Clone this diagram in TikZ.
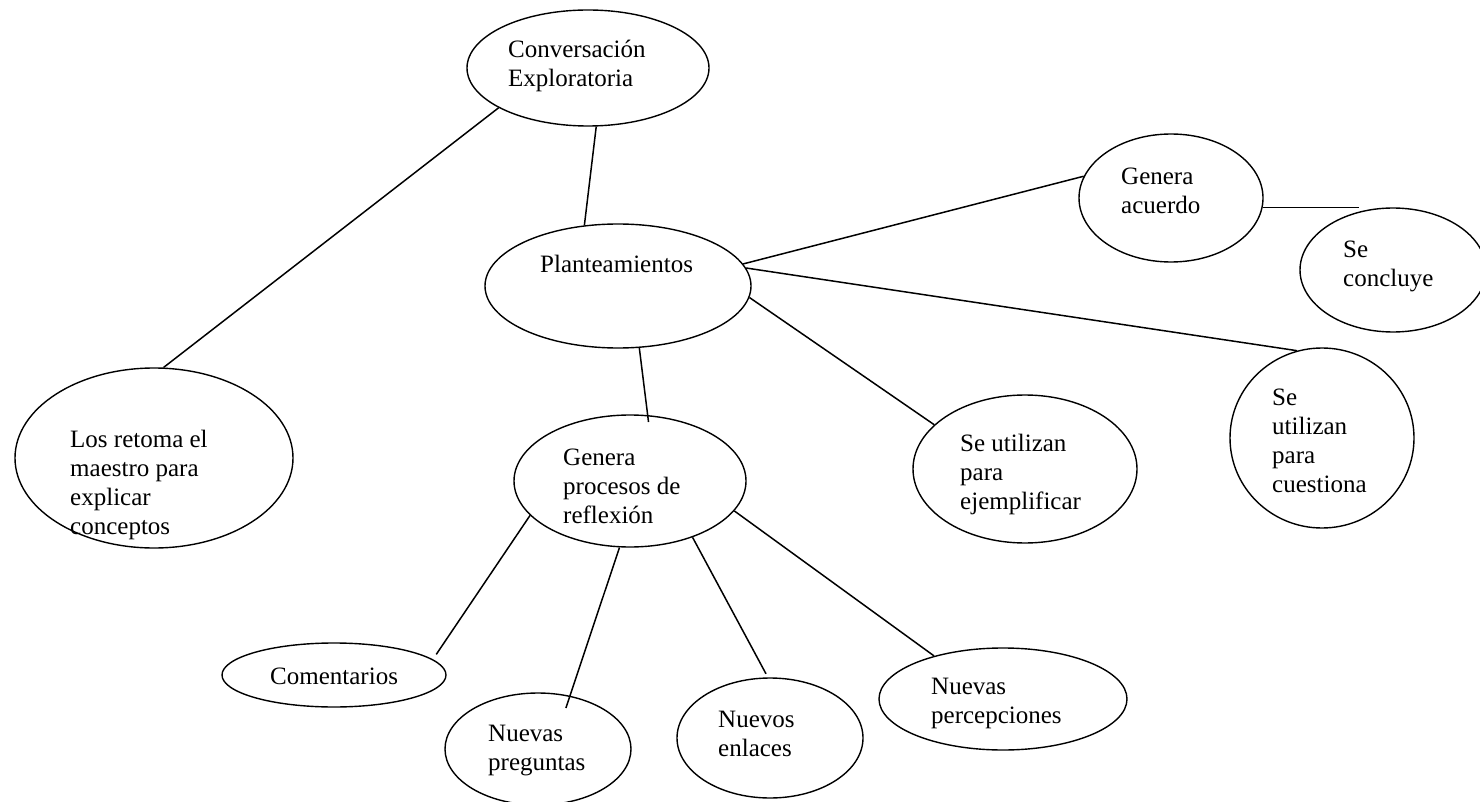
\documentclass[tikz,border=0pt]{standalone}
\usepackage{fontspec}
\setmainfont{Liberation Serif}
\usetikzlibrary{shapes.geometric}
\begin{document}
\begin{tikzpicture}[x=1pt,y=-1pt,
  bubble/.style={draw, ellipse, inner sep=0pt, line width=1.4pt},
  intext/.style={anchor=north west, inner sep=0pt, align=left,
                 font=\fontsize{25}{29}\selectfont},
  link/.style={line width=1.5pt}]
\useasboundingbox (0,0) rectangle (1480,802);

% ellipses
\node[bubble, minimum width=242pt, minimum height=116pt] (conv)    at (588,68)   {};
\node[bubble, minimum width=266pt, minimum height=124pt] (plant)   at (618,286)  {};
\node[bubble, minimum width=278pt, minimum height=180pt] (retoma)  at (154,458)  {};
\node[bubble, minimum width=232pt, minimum height=132pt] (genp)    at (630,481)  {};
\node[bubble, minimum width=224pt, minimum height=148pt] (ejem)    at (1025,469) {};
\node[bubble, minimum width=184pt, minimum height=180pt] (cuest)   at (1322,438) {};
\node[bubble, minimum width=184pt, minimum height=128pt] (acuerdo) at (1171,198) {};
\node[bubble, minimum width=186pt, minimum height=124pt] (concl)   at (1393,270) {};
\node[bubble, minimum width=224pt, minimum height=64pt]  (coment)  at (334,675)  {};
\node[bubble, minimum width=186pt, minimum height=112pt] (pregunt) at (538,749)  {};
\node[bubble, minimum width=186pt, minimum height=120pt] (enlaces) at (770,738)  {};
\node[bubble, minimum width=248pt, minimum height=102pt] (percep)  at (1003,699) {};

% texts
\node[intext] (conv-t)    at (508,36.7)  {\strut Conversación\\Exploratoria};
\node[intext] (plant-t)   at (540,251.7) {\strut Planteamientos};
\node[intext] (retoma-t)  at (70,426.7)  {\strut Los retoma el\\maestro para\\explicar\\conceptos};
\node[intext] (genp-t)    at (563,444.7) {\strut Genera\\procesos de\\reflexión};
\node[intext] (ejem-t)    at (960,430.7) {\strut Se utilizan\\para\\ejemplificar};
\node[intext] (cuest-t)   at (1272,384.7){\strut Se\\utilizan\\para\\cuestiona};
\node[intext] (acuerdo-t) at (1121,163.7){\strut Genera\\acuerdo};
\node[intext] (concl-t)   at (1343,236.7){\strut Se\\concluye};
\node[intext] (coment-t)  at (270,663.7) {\strut Comentarios};
\node[intext] (pregunt-t) at (488,720.7) {\strut Nuevas\\preguntas};
\node[intext] (enlaces-t) at (718,706.7) {\strut Nuevos\\enlaces};
\node[intext] (percep-t)  at (931,673.7) {\strut Nuevas\\percepciones};

% connectors
\draw[link] (conv.204) -- (retoma.84);
\draw[link] (conv.278) -- (plant.119);
\draw[link, shorten >=-7pt] (plant.289) -- (genp.75);
\draw[link] (plant.10) -- (acuerdo.166);
\draw[link] (plant.8) -- (cuest.106);
\draw[link] (plant.355) -- (ejem.154);
\draw[link] (acuerdo.354) -- (acuerdo.354 -| concl.120);
\draw[link, shorten >=6pt] (genp.199) -- (coment.9);
\draw[link, shorten >=-13pt] (genp.261) -- (pregunt.59);
\draw[link, shorten >=4pt] (genp.318) -- (enlaces.92);
\draw[link] (genp.344) -- (percep.148);
\end{tikzpicture}
\end{document}
